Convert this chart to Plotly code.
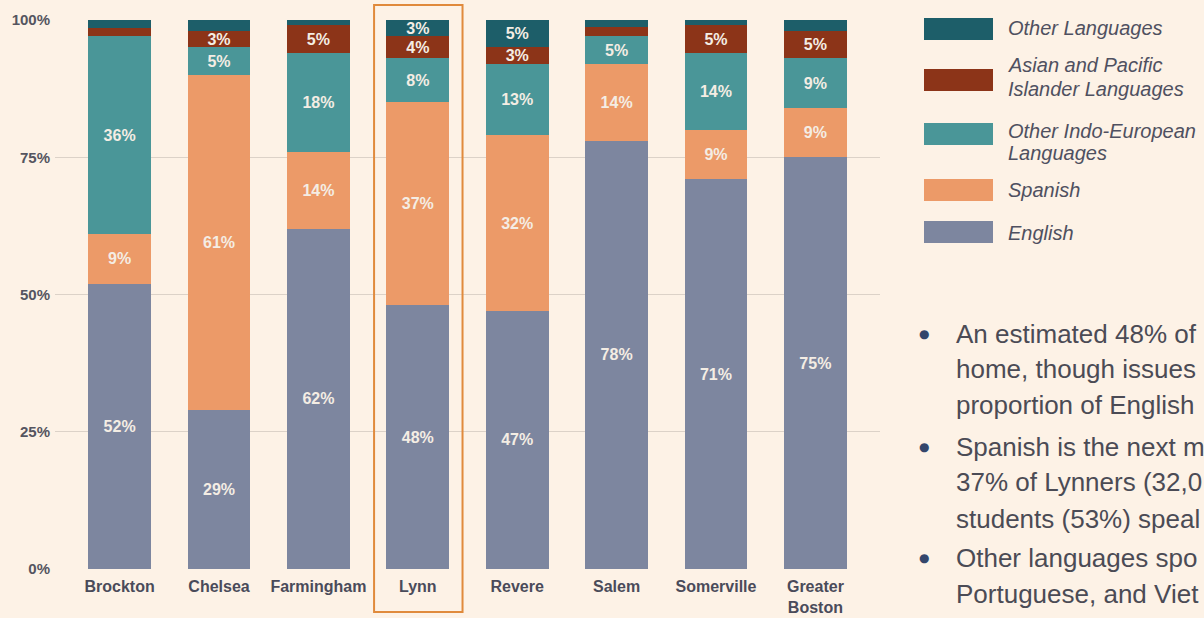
import plotly.graph_objects as go

# ---------------- data ----------------
categories = ["Brockton", "Chelsea", "Farmingham", "Lynn", "Revere", "Salem", "Somerville", "Greater<br>Boston"]
series_names = ["English", "Spanish", "Other Indo-European Languages",
                "Asian and Pacific Islander Languages", "Other Languages"]
legend_labels = ["English", "Spanish", "Other Indo-European<br>Languages",
                 "Asian and Pacific<br>Islander Languages", "Other Languages"]
english = [52, 29, 62, 48, 47, 78, 71, 75]
spanish = [9, 61, 14, 37, 32, 14, 9, 9]
indo_european = [36, 5, 18, 8, 13, 5, 14, 9]
asian_pacific = [1.5, 3, 5, 4, 3, 1.8, 5, 5]
other_langs = [1.5, 2, 1, 3, 5, 1.2, 1, 2]
series_values = [english, spanish, indo_european, asian_pacific, other_langs]
colors = ["#7D869F", "#EC9A68", "#4A9698", "#8C3418", "#1D5E69"]
y_ticks = [0, 25, 50, 75, 100]
y_ticktext = ["0%", "25%", "50%", "75%", "100%"]
highlight = "Lynn"
# bullet text as visible in the (cropped) reference
bullet_lines = [
    ["An estimated 48% of",
     "home, though issues",
     "proportion of English"],
    ["Spanish is the next m",
     "37% of Lynners (32,0",
     "students (53%) speal"],
    ["Other languages spo",
     "Portuguese, and Viet"],
]

# ---------------- geometry ----------------
W, H = 1204, 618
L, R, T, B = 55, 880, 20, 569
BG = "#FDF2E6"


def px_x(px):
    return (px - L) / (R - L)


def px_y(py):
    return (B - py) / (B - T)


fig = go.Figure()
for name, vals, col in zip(series_names, series_values, colors):
    fig.add_trace(go.Bar(
        x=list(range(len(categories))), y=vals, name=name,
        marker=dict(color=col, line=dict(width=0)),
        width=0.63,
        text=[f"{round(v)}%" if v >= 3 else "" for v in vals],
        textposition="inside", insidetextanchor="middle",
        constraintext="none", textangle=0,
        textfont=dict(family="Liberation Sans", size=16, color="#F4EDE4", weight="bold"),
        showlegend=False, hoverinfo="skip",
    ))

shapes = []
annotations = []

# highlight box around Lynn
hi = categories.index(highlight)
shapes.append(dict(type="rect", xref="x", yref="paper",
                   x0=hi - 0.44, x1=hi + 0.45, y0=px_y(612), y1=px_y(5),
                   line=dict(color="#E08A3C", width=2), fillcolor="rgba(0,0,0,0)", layer="above"))

# manual legend (top to bottom: reversed stacking order)
legend_rows = [(29, [28]), (80, [65, 89]), (134, [131, 153]), (190, [190]), (232, [233])]
for i, (sw_c, text_ys) in enumerate(legend_rows):
    idx = len(series_names) - 1 - i
    shapes.append(dict(type="rect", xref="paper", yref="paper",
                       x0=px_x(924), x1=px_x(993), y0=px_y(sw_c + 11), y1=px_y(sw_c - 11),
                       fillcolor=colors[idx], line=dict(width=0)))
    parts = legend_labels[idx].split("<br>")
    for line_text, ty in zip(parts, text_ys):
        annotations.append(dict(xref="paper", yref="paper", x=px_x(1006), y=px_y(ty),
                                xanchor="left", yanchor="middle", showarrow=False,
                                text=f"<i>{line_text}</i>",
                                font=dict(family="Liberation Sans", size=20, color="#4F5060")))

# bullet text
line_centers = [[334, 369, 405], [447, 482, 519], [558, 594]]
for lines, centers in zip(bullet_lines, line_centers):
    annotations.append(dict(xref="paper", yref="paper", x=px_x(917), y=px_y(centers[0]),
                            xanchor="left", yanchor="middle", showarrow=False, text="●",
                            font=dict(family="DejaVu Sans", size=12, color="#34466B")))
    for t, c in zip(lines, centers):
        annotations.append(dict(xref="paper", yref="paper", x=px_x(954), y=px_y(c),
                                xanchor="left", yanchor="middle", showarrow=False, text=t,
                                font=dict(family="Liberation Sans", size=26, color="#4B4B55")))

fig.update_layout(
    width=W, height=H,
    margin=dict(l=L, r=W - R, t=T, b=H - B, pad=0),
    paper_bgcolor=BG, plot_bgcolor=BG,
    barmode="stack", bargap=0.37,
    shapes=shapes, annotations=annotations,
    xaxis=dict(range=[-0.65, len(categories) - 0.35], tickmode="array",
               tickvals=list(range(len(categories))), ticktext=categories,
               showgrid=False, zeroline=False, showline=False, ticks="",
               ticklabelstandoff=6, automargin=False,
               tickfont=dict(family="Liberation Sans", size=16, color="#4A4B5A", weight="bold")),
    yaxis=dict(range=[0, 100], tickmode="array", tickvals=y_ticks, ticktext=y_ticktext,
               showgrid=True, gridcolor="#DCD2C8", gridwidth=1, zeroline=False,
               showline=False, ticks="", ticklabelstandoff=4, automargin=False,
               tickfont=dict(family="Liberation Sans", size=15, color="#555560", weight="bold")),
    font=dict(family="Liberation Sans"),
)

fig.write_html("out.html")
